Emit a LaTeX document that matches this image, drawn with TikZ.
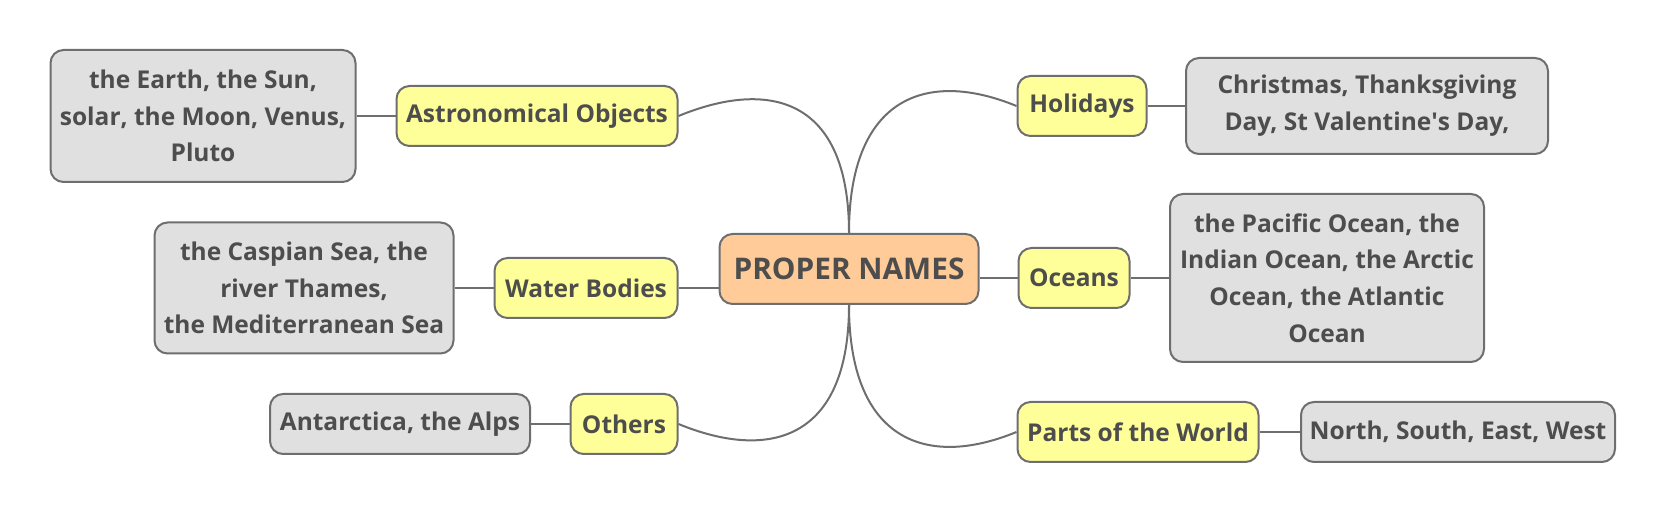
\documentclass[tikz,border=0pt]{standalone}
\usepackage{fontspec}
\setmainfont{Open Sans}
\definecolor{txt}{HTML}{4D4D4D}
\definecolor{edge}{HTML}{6E6E6E}
\definecolor{yel}{HTML}{FFFF99}
\definecolor{gry}{HTML}{E0E0E0}
\definecolor{peach}{HTML}{FFCC99}
\begin{document}
\begin{tikzpicture}[x=0.5pt,y=-0.5pt,
  box/.style={draw=edge, line width=1pt, rounded corners=6.5pt, inner sep=0pt,
    align=center, text=txt, font=\fontsize{12.25}{18.4}\selectfont\bfseries},
  sz/.style 2 args={minimum width=#1*0.5pt, minimum height=#2*0.5pt},
  topic/.style={box, fill=yel},
  leaf/.style={box, fill=gry},
  root/.style={box, fill=peach, font=\fontsize{14.9}{18}\selectfont\bfseries},
  link/.style={draw=edge, line width=1pt}]
\useasboundingbox (0,0) rectangle (1666,512);
\node[root, sz={259}{70}] (c) at (849,269) {PROPER NAMES};
\node[topic, sz={281}{60}] (ao) at (537,116) {Astronomical Objects};
\node[leaf, sz={305}{132}] (aog) at (203,116) {the Earth, the Sun,\\solar, the Moon, Venus,\\Pluto};
\node[topic, sz={183}{60}] (wb) at (586,288) {Water Bodies};
\node[leaf, sz={299}{131}] (wbg) at (304,288) {the Caspian Sea, the\\river Thames,\\the Mediterranean Sea};
\node[topic, sz={107}{60}] (ot) at (624,424) {Others};
\node[leaf, sz={260}{60}] (otg) at (400,424) {Antarctica, the Alps};
\node[topic, sz={129}{60}] (ho) at (1082,106) {Holidays};
\node[leaf, sz={362}{96}] (hog) at (1367,106) {Christmas, Thanksgiving\\Day, St Valentine\textquotesingle s Day,};
\node[topic, sz={111}{60}] (oc) at (1074,278) {Oceans};
\node[leaf, sz={314}{168}] (ocg) at (1327,278) {the Pacific Ocean, the\\Indian Ocean, the Arctic\\Ocean, the Atlantic\\Ocean};
\node[topic, sz={241}{60}] (pw) at (1138,432) {Parts of the World};
\node[leaf, sz={314}{60}] (pwg) at (1458,432) {North, South, East, West};
% curved branches
\draw[link] (c.north) .. controls +(0,-136) and +(90,-37) .. (ao.east);
\draw[link] (c.north) .. controls +(0,-136) and +(-90,-37) .. (ho.west);
\draw[link] (c.south) .. controls +(0,136) and +(90,37) .. (ot.east);
\draw[link] (c.south) .. controls +(0,136) and +(-90,37) .. (pw.west);
\draw[link] (wb.east) -- (wb.east -| c.west);
\draw[link] (oc.west) -- (oc.west -| c.east);
% leaves
\draw[link] (aog) -- (ao);
\draw[link] (wbg) -- (wb);
\draw[link] (otg) -- (ot);
\draw[link] (ho) -- (hog);
\draw[link] (oc) -- (ocg);
\draw[link] (pw) -- (pwg);
\end{tikzpicture}
\end{document}
